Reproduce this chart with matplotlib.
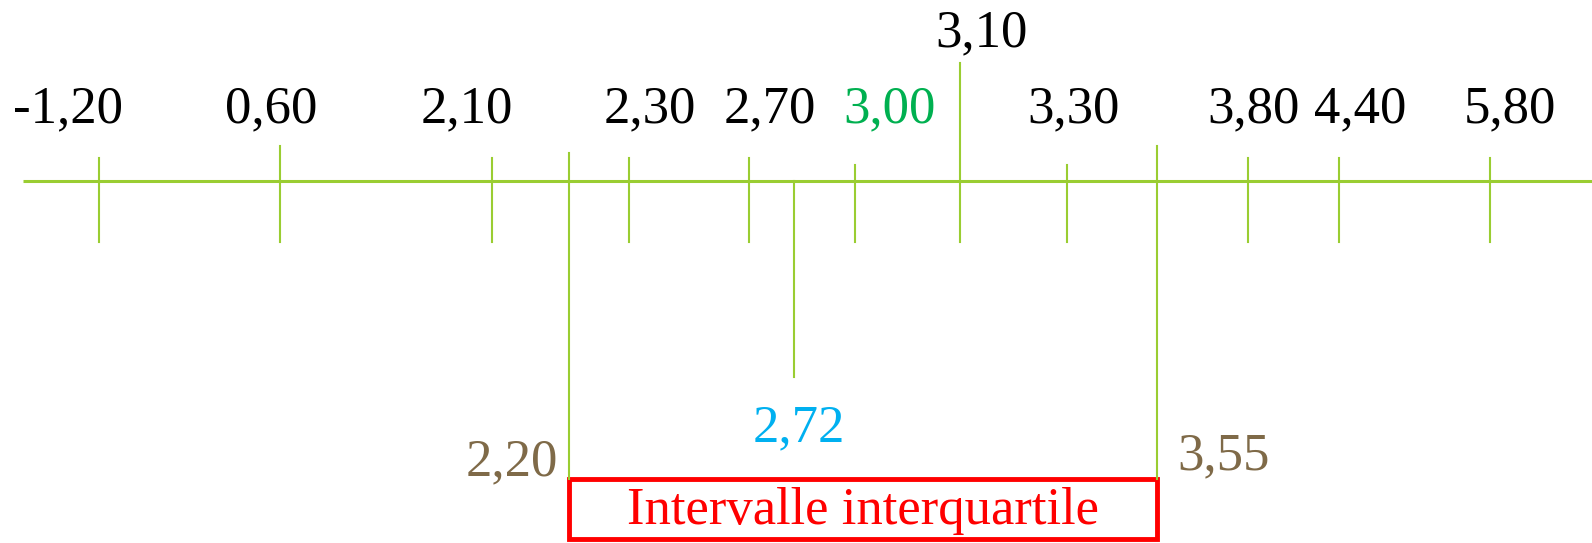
import matplotlib.pyplot as plt
from matplotlib.patches import Rectangle

# tick values on the (schematic) number line
values = ["-1,20", "0,60", "2,10", "2,30", "2,70", "3,00", "3,10", "3,30", "3,80", "4,40", "5,80"]
tick_x = [99, 280, 492, 629, 749, 855, 960, 1067, 1248, 1339, 1490]
tick_top = [158, 146, 158, 158, 158, 165, 63, 165, 158, 158, 158]
label_x = [68, 271, 467, 650, 770, 890, 981, 1073, 1254, 1360, 1510]
label_col = ["black"] * 5 + ["#00B050"] + ["black"] * 5

# quartiles and median
q1, q3, med = "2,20", "3,55", "2,72"
q1_x, q3_x, med_x = 569, 1157, 794

line_col = "#9ACD32"
brown = "#7F6A48"
fs = 38

fig = plt.figure(figsize=(15.92, 5.43), dpi=100)
ax = fig.add_axes([0, 0, 1, 1])
ax.set_xlim(0, 1592)
ax.set_ylim(543, 0)
ax.axis("off")
plt.rcParams["font.family"] = ["Liberation Serif", "DejaVu Serif"]

axis_y = 181
ax.plot([23, 1592], [axis_y, axis_y], color=line_col, lw=2.2, solid_capstyle="butt")

for x, top, v, lx, c in zip(tick_x, tick_top, values, label_x, label_col):
    ax.plot([x, x], [top, 242], color=line_col, lw=1.5)
    ly = 33 if v == "3,10" else 109
    ax.text(lx, ly, v, color=c, fontsize=fs, ha="center", va="center")

# quartile lines
ax.plot([q1_x, q1_x], [153, 479], color=line_col, lw=1.5)
ax.plot([q3_x, q3_x], [146, 479], color=line_col, lw=1.5)
ax.plot([med_x, med_x], [axis_y, 377], color=line_col, lw=1.5)

ax.text(512, 462, q1, color=brown, fontsize=fs, ha="center", va="center")
ax.text(1223, 456, q3, color=brown, fontsize=fs, ha="center", va="center")
ax.text(799, 428, med, color="#00B0F0", fontsize=fs, ha="center", va="center")

ax.add_patch(Rectangle((q1_x, 479), q3_x - q1_x, 60, fill=False, edgecolor="red", lw=3.5))
ax.text((q1_x + q3_x) / 2, 511, "Intervalle interquartile", color="red",
        fontsize=fs, ha="center", va="center")

fig.savefig("out.png", dpi=100)
